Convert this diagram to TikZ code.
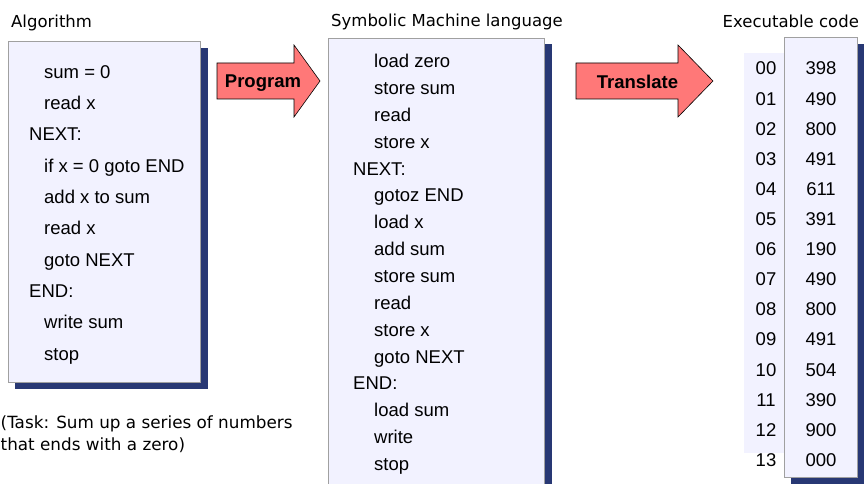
\documentclass[tikz,border=0pt]{standalone}
\usepackage{fontspec}
\setmainfont{Liberation Sans}
\newfontfamily\handfont{DejaVu Sans}

\definecolor{panelfill}{RGB}{242,242,255}
\definecolor{panelline}{RGB}{160,160,160}
\definecolor{shadownavy}{RGB}{40,56,116}
\definecolor{arrowred}{RGB}{255,120,120}

\newcommand{\codesize}{\fontsize{18.5}{22}\selectfont}
\newcommand{\handsize}{\handfont\fontsize{16.5}{20}\selectfont}
\newcommand{\notesize}{\handfont\fontsize{16.8}{20}\selectfont}

\begin{document}
\begin{tikzpicture}[x=1pt,y=-1pt,
  panel/.style={draw=panelline, fill=panelfill, line width=0.8pt},
  dropshadow/.style={fill=shadownavy},
  codeline/.style={font=\codesize, anchor=base west, inner sep=0pt},
  codecell/.style={font=\codesize, anchor=base, inner sep=0pt},
  caption/.style={font=\handsize, anchor=base west, inner sep=0pt},
  note/.style={font=\notesize, anchor=base west, inner sep=0pt},
  bigarrow/.style={draw=black, fill=arrowred, line width=0.6pt, line join=miter},
  arrowlabel/.style={font=\codesize\bfseries, anchor=base, inner sep=0pt}]

\useasboundingbox (0,0) rectangle (868,484);

% ---------- Algorithm panel ----------
\node[caption] (algtitle) at (11,27.5) {Algorithm};
\fill[dropshadow] (15,48) rectangle (208,389);
\draw[panel] (8,41) rectangle (200,382);
\foreach [count=\i] \t/\x in {sum = 0/44, read x/44, NEXT:/29,
    if x = 0 goto END/44, add x to sum/44, read x/44, goto NEXT/44,
    END:/29, write sum/44, stop/44}
  \node[codeline] (alg\i) at (\x,{78.3+(\i-1)*31.3}) {\t};

\node[note] (task1) at (0.5,428.3) {(Task: Sum up a series of numbers};
\node[note] (task2) at (0.5,450) {that ends with a zero)};

% ---------- Program arrow ----------
\draw[bigarrow] (217,63) -- (294,63) -- (294,45) -- (320,81)
  -- (294,117) -- (294,99) -- (217,99) -- cycle;
\node[arrowlabel] (program) at (263,87.7) {Program};

% ---------- Symbolic machine language panel ----------
\node[caption] (smltitle) at (331,27) {Symbolic Machine language};
\fill[dropshadow] (335,44) rectangle (552,497);
\draw[panel] (328,38) rectangle (544,490);
\foreach [count=\i] \t/\x in {load zero/374, store sum/374, read/374,
    store x/374, NEXT:/353, gotoz END/374, load x/374, add sum/374,
    store sum/374, read/374, store x/374, goto NEXT/374, END:/353,
    load sum/374, write/374, stop/374}
  \node[codeline] (sml\i) at (\x,{67.7+(\i-1)*26.85}) {\t};

% ---------- Translate arrow ----------
\draw[bigarrow] (576,63) -- (678,63) -- (678,45) -- (713,81)
  -- (678,117) -- (678,99) -- (576,99) -- cycle;
\node[arrowlabel] (translate) at (637.5,88.3) {Translate};

% ---------- Executable code ----------
\node[caption] (exetitle) at (722.5,27.5) {Executable code};
\fill[panelfill] (744,53) rectangle (784,453);
\fill[dropshadow] (791,44) rectangle (864,484);
\draw[panel] (784,37) rectangle (857,477);
\foreach [count=\i] \a/\w in {00/398, 01/490, 02/800, 03/491, 04/611,
    05/391, 06/190, 07/490, 08/800, 09/491, 10/504, 11/390, 12/900, 13/000}
{
  \node[codecell] (addr\i) at (766,{75+(\i-1)*30.1}) {\a};
  \node[codecell] (word\i) at (821,{75+(\i-1)*30.1}) {\w};
}
\end{tikzpicture}
\end{document}
